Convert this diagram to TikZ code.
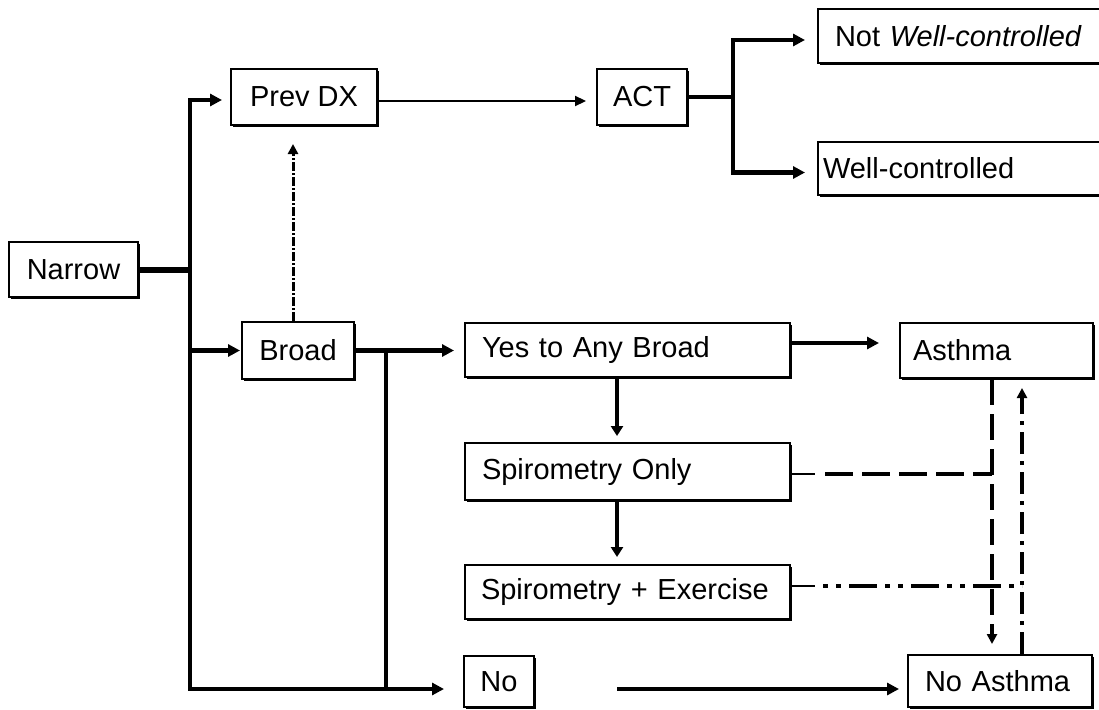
\documentclass[tikz,border=0pt]{standalone}
\usepackage{fontspec}
\setmainfont{Liberation Sans}
\usetikzlibrary{arrows.meta,shadows,calc}
\begin{document}
\begin{tikzpicture}[x=1pt,y=-1pt,
  box/.style={draw,line width=2pt,fill=white,inner sep=0pt,
    drop shadow={shadow xshift=2pt,shadow yshift=-2pt,fill=black,opacity=1},
    font=\fontsize{29}{34}\selectfont},
  lbox/.style={box,align=left},
  thk/.style={line width=4.5pt},
  thn/.style={line width=2pt},
  tip/.style={-{Triangle[length=12pt,width=12pt]}},
  vtip/.style={-{Triangle[length=10pt,width=12pt]}},
  smalltip/.style={-{Triangle[length=10pt,width=10pt]}},
  longdash/.style={line width=4pt,dash pattern=on 28pt off 9pt},
  vdash/.style={line width=3.5pt,dash pattern=on 26pt off 9pt},
  dashdotdot/.style={line width=4pt,dash pattern=on 5pt off 8pt on 5pt off 8pt on 28pt off 8pt},
  vdashdot/.style={line width=3.5pt,dash pattern=on 22pt off 7pt on 4pt off 7pt},
  finedashdot/.style={line width=3pt,dash pattern=on 9pt off 2pt on 2pt off 2pt},
]
\useasboundingbox (0,0) rectangle (1099,709);
\fill[white] (0,0) rectangle (1099,709);

% boxes
\node[box,minimum width=129pt,minimum height=55pt] (narrow) at (73.5,269.5) {Narrow};
\node[box,minimum width=146pt,minimum height=56pt] (prev) at (304,97) {Prev DX};
\node[box,minimum width=90pt,minimum height=56pt] (act) at (642,97) {ACT};
\node[box,minimum width=112pt,minimum height=57pt] (broad) at (298,350.5) {Broad};
\node[box,minimum width=70pt,minimum height=51pt] (no) at (499,681.5) {No};
% the two outcome boxes run off the right edge
\node[lbox,minimum width=400pt,minimum height=54pt,text width=366pt] (notwell) at (1018,36) {Not \textit{Well-controlled}};
\node[lbox,minimum width=400pt,minimum height=53pt,text width=390pt] (well) at (1018,168.5) {Well-controlled};
\node[lbox,minimum width=325pt,minimum height=54pt,text width=291pt] (yes) at (627.5,350) {Yes to Any Broad};
\node[lbox,minimum width=325pt,minimum height=57pt,text width=291pt] (sponly) at (627.5,471.5) {Spirometry Only};
\node[lbox,minimum width=325pt,minimum height=54pt,text width=293pt] (spex) at (627.5,592) {Spirometry + Exercise};
\node[lbox,minimum width=193pt,minimum height=55pt,text width=167pt] (asthma) at (996.5,350.5) {Asthma};
\node[lbox,minimum width=184pt,minimum height=52pt,text width=150pt] (noasthma) at (1000,681) {No Asthma};

% junction points
\coordinate (tj) at (190,269.5);
\coordinate (tb) at (190,689);
\coordinate (bj) at ($(broad.east)+(31,0)$);
\coordinate (aj) at ($(act.east)+(45,0)$);
\coordinate (ns) at (617,689);
\coordinate (dc) at (992,474);
\coordinate (ec) at (1022,586);

% Narrow fans out to Prev DX, Broad and No
\draw[line width=6pt] (narrow.east) -- (tj);
\draw[thk,{Triangle[length=12pt,width=12pt]}-{Triangle[length=12pt,width=12pt]}]
  ($(prev.west)+(-8,3)$) -- (tj |- {$(prev.west)+(0,3)$}) -- (tb) -- ($(no.west |- tb)+(-19,0)$);
\draw[thk,tip] (tj |- broad.west) -- ($(broad.west)+(-1,0)$);

% Broad
\draw[thk,tip] (broad.east) -- ($(yes.west |- broad.east)+(-10,0)$);
\draw[thk] (bj) -- (bj |- tb);
\draw[finedashdot,smalltip] ($(broad.north)+(-5,0)$) -- ($(prev.south)+(-11,18)$);

% Prev DX to ACT and its two outcomes
\draw[line width=2.2pt,-{Triangle[length=11pt,width=10pt]}] ($(prev.east)+(0,4)$) -- ($(act.west)+(-10,4)$);
\draw[thk] (act.east) -- (aj);
\draw[thk,{Triangle[length=12pt,width=12pt]}-{Triangle[length=12pt,width=12pt]}]
  ($(notwell.west)+(-12,4)$) -- (aj |- {$(notwell.west)+(0,4)$}) -- (aj |- {$(well.west)+(0,4)$}) -- ($(well.west)+(-12,4)$);

% broad questions chain
\draw[thk,vtip] ($(yes.south)+(-10.5,0)$) -- ($(sponly.north)+(-10.5,-6)$);
\draw[thk,vtip] ($(sponly.south)+(-10.5,0)$) -- ($(spex.north)+(-10.5,-7)$);
\draw[thk,tip] ($(yes.east)+(0,-7)$) -- ($(asthma.west |- yes.east)+(-20,-7)$);
\draw[thk,tip] (ns) -- ($(noasthma.west |- ns)+(-8,0)$);

% spirometry only: dashed
\draw[thn] (sponly.east |- dc) -- ++(24,0) coordinate (ds);
\draw[longdash] ($(ds)+(10,0)$) -- (dc);
\draw[vdash,smalltip] (asthma.south -| dc) -- ($(noasthma.north -| dc)+(0,-10)$);

% spirometry + exercise: dash-dot
\draw[thn] (spex.east |- ec) -- ++(24,0) coordinate (es);
\draw[dashdotdot] ($(es)+(8,0)$) -- (ec);
\draw[vdashdot,smalltip] (noasthma.north -| ec) -- ($(asthma.south -| ec)+(0,9)$);
\end{tikzpicture}
\end{document}
